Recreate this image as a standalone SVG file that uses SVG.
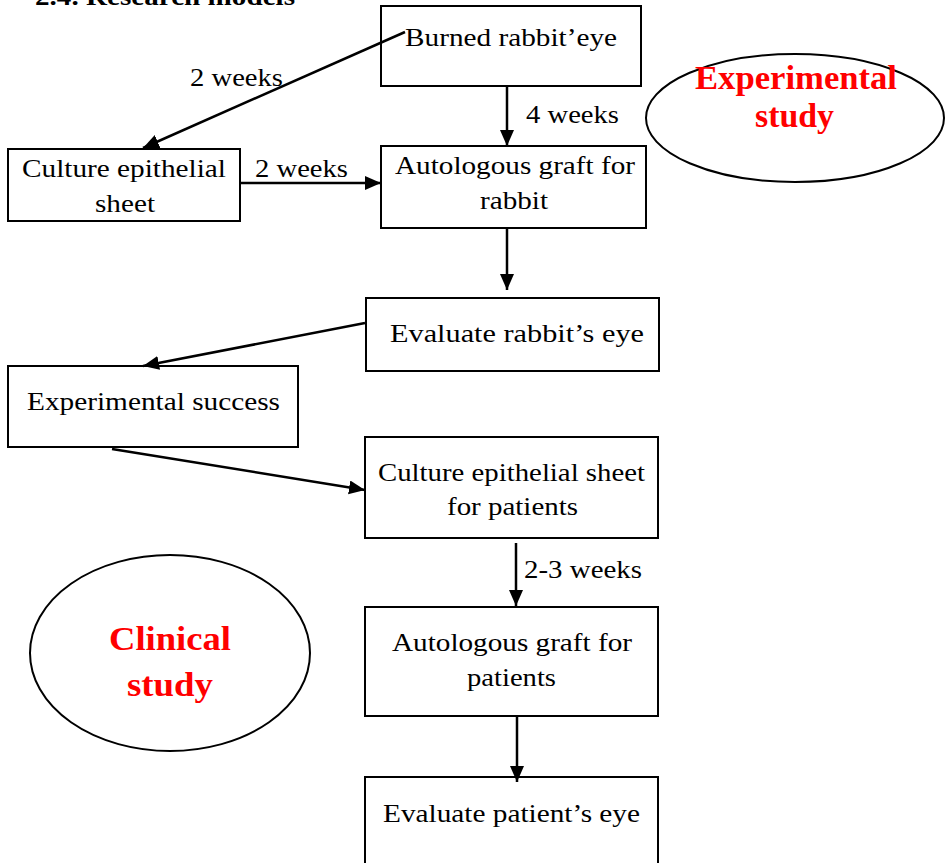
<svg xmlns="http://www.w3.org/2000/svg" width="950" height="863" viewBox="0 0 950 863">
<style>
.box{fill:#fff;stroke:#000;stroke-width:2}
.ell{fill:#fff;stroke:#000;stroke-width:2}
.t{font-family:"Liberation Serif","Times New Roman",serif;font-size:26px;fill:#000}
.b{font-family:"Liberation Serif","Times New Roman",serif;font-size:33px;font-weight:bold;fill:#ff0000}
.title{font-family:"Liberation Serif","Times New Roman",serif;font-size:26px;font-weight:bold;fill:#000}
.c{stroke:#000;stroke-width:2.5;fill:none;marker-end:url(#ah)}
</style>
<defs>
<marker id="ah" markerUnits="userSpaceOnUse" markerWidth="18" markerHeight="16" refX="16" refY="7" orient="auto">
<path d="M0,0 L16,7 L0,14 Z" fill="#000"/>
</marker>
</defs>
<rect width="950" height="863" fill="#fff"/>
<text class="title" x="35" y="5" textLength="260" lengthAdjust="spacingAndGlyphs">2.4. Research models</text>

<g id="burned">
<rect class="box" x="381" y="6" width="260" height="80"/>
<text class="t" x="405" y="46" textLength="212" lengthAdjust="spacingAndGlyphs">Burned rabbit’eye</text>
</g>
<g id="culture1">
<rect class="box" x="8" y="149" width="232" height="72"/>
<text class="t" x="22" y="177" textLength="204" lengthAdjust="spacingAndGlyphs">Culture epithelial</text>
<text class="t" x="95" y="212" textLength="60" lengthAdjust="spacingAndGlyphs">sheet</text>
</g>
<g id="graftRabbit">
<rect class="box" x="381" y="146" width="265" height="82"/>
<text class="t" x="395" y="174" textLength="240" lengthAdjust="spacingAndGlyphs">Autologous graft for</text>
<text class="t" x="480" y="209" textLength="68" lengthAdjust="spacingAndGlyphs">rabbit</text>
</g>
<g id="evalRabbit">
<rect class="box" x="366" y="298" width="293" height="73"/>
<text class="t" x="390" y="342" textLength="254" lengthAdjust="spacingAndGlyphs">Evaluate rabbit’s eye</text>
</g>
<g id="expSuccess">
<rect class="box" x="8" y="366" width="290" height="81"/>
<text class="t" x="27" y="410" textLength="253" lengthAdjust="spacingAndGlyphs">Experimental success</text>
</g>
<g id="culture2">
<rect class="box" x="365" y="437" width="293" height="101"/>
<text class="t" x="378" y="481" textLength="267" lengthAdjust="spacingAndGlyphs">Culture epithelial sheet</text>
<text class="t" x="447" y="515" textLength="131" lengthAdjust="spacingAndGlyphs">for patients</text>
</g>
<g id="graftPatients">
<rect class="box" x="365" y="607" width="293" height="109"/>
<text class="t" x="392" y="651" textLength="240" lengthAdjust="spacingAndGlyphs">Autologous graft for</text>
<text class="t" x="467" y="686" textLength="89" lengthAdjust="spacingAndGlyphs">patients</text>
</g>
<g id="evalPatient">
<rect class="box" x="365" y="777" width="293" height="100"/>
<text class="t" x="383" y="822" textLength="257" lengthAdjust="spacingAndGlyphs">Evaluate patient’s eye</text>
</g>
<g id="experimentalStudy">
<ellipse class="ell" cx="795" cy="118" rx="149" ry="64"/>
<text class="b" x="695" y="89" textLength="202" lengthAdjust="spacingAndGlyphs">Experimental</text>
<text class="b" x="755" y="127" textLength="79" lengthAdjust="spacingAndGlyphs">study</text>
</g>
<g id="clinicalStudy">
<ellipse class="ell" cx="170" cy="653" rx="140" ry="98"/>
<text class="b" x="109" y="650" textLength="122" lengthAdjust="spacingAndGlyphs">Clinical</text>
<text class="b" x="127" y="696" textLength="86" lengthAdjust="spacingAndGlyphs">study</text>
</g>

<g id="connectors">
<line class="c" x1="405" y1="32" x2="143" y2="148"/>
<line class="c" x1="507" y1="86" x2="507" y2="146"/>
<line class="c" x1="240" y1="183" x2="381" y2="183"/>
<line class="c" x1="507" y1="228" x2="507" y2="290"/>
<line class="c" x1="365" y1="323" x2="143" y2="366"/>
<line class="c" x1="112" y1="449" x2="365" y2="490"/>
<line class="c" x1="516" y1="543" x2="516" y2="606"/>
<line class="c" x1="517" y1="716" x2="517" y2="782"/>
<text class="t" x="190" y="86" textLength="93" lengthAdjust="spacingAndGlyphs">2 weeks</text>
<text class="t" x="526" y="123" textLength="93" lengthAdjust="spacingAndGlyphs">4 weeks</text>
<text class="t" x="255" y="177" textLength="93" lengthAdjust="spacingAndGlyphs">2 weeks</text>
<text class="t" x="524" y="578" textLength="118" lengthAdjust="spacingAndGlyphs">2-3 weeks</text>
</g>
</svg>
